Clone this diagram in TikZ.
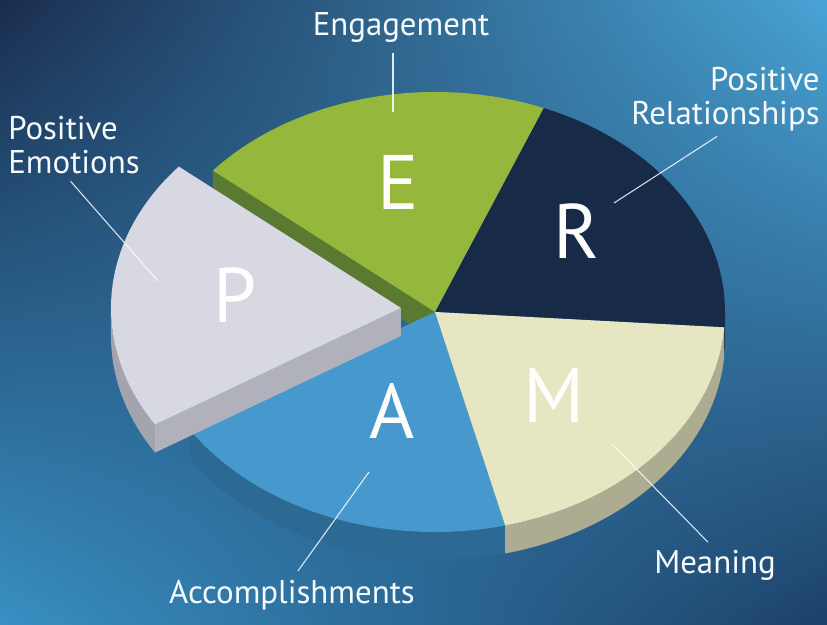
\documentclass[tikz,border=0pt]{standalone}
\usepackage{fontspec}
\setmainfont{PT Sans}
\usepackage{xcolor}
\usepackage{tikz}
\usetikzlibrary{positioning, shadings}
\definecolor{BgTopLeft}{HTML}{1A2D4E}
\definecolor{BgTopRight}{HTML}{48A4D5}
\definecolor{BgBotLeft}{HTML}{3890C3}
\definecolor{BgBotRight}{HTML}{1D4168}
\definecolor{PermaGrey}{HTML}{D7D8E1}
\definecolor{PermaGreyCut}{HTML}{B0B1BA}
\definecolor{PermaGreySide}{HTML}{A3A4AE}
\definecolor{PermaGreen}{HTML}{94B73C}
\definecolor{PermaGreenSide}{HTML}{5B7A31}
\definecolor{PermaNavy}{HTML}{172A48}
\definecolor{PermaNavySide}{HTML}{101E35}
\definecolor{PermaCream}{HTML}{E7E6C3}
\definecolor{PermaCreamSide}{HTML}{ADAB90}
\definecolor{PermaBlue}{HTML}{4698CD}
\definecolor{PermaBlueSide}{HTML}{2C6A94}

\begin{document}
\begin{tikzpicture}[
  x radius=5.8, y radius=4.4,
  letter/.style={text=white, font=\fontsize{44}{44}\selectfont, inner sep=0pt},
  labeltext/.style={text=white!95!BgTopRight, font=\fontsize{18.7}{19}\selectfont, inner sep=0pt},
  leader/.style={white, line width=0.6pt, opacity=0.85, shorten <=0.2cm}
]
\useasboundingbox (-8.7,-6.26) rectangle (7.84,6.24);
\shade[upper left=BgTopLeft, upper right=BgTopRight, lower left=BgBotLeft, lower right=BgBotRight]
  (-8.7,-6.26) rectangle (7.84,6.24);

% side walls
\fill[PermaBlueSide] (212:5.8 and 4.4) arc[start angle=212, end angle=284] -- ++(0,-0.56)
  arc[start angle=284, end angle=212] -- cycle;
\fill[PermaCreamSide] (284:5.8 and 4.4) arc[start angle=284, end angle=356] -- ++(0,-0.56)
  arc[start angle=356, end angle=284] -- cycle;
\fill[PermaNavySide] (356:5.8 and 4.4) arc[start angle=356, end angle=360] -- ++(0,-0.56)
  arc[start angle=360, end angle=356] -- cycle;
\fill[PermaGreenSide] (0,0) -- (140:5.8 and 4.4) -- ++(0,-0.56) -- (0,-0.56) -- cycle;

% top faces
\fill[PermaNavy] (0,0) -- (-4:5.8 and 4.4) arc[start angle=-4, end angle=68] -- cycle;
\fill[PermaGreen] (0,0) -- (68:5.8 and 4.4) arc[start angle=68, end angle=140] -- cycle;
\fill[PermaBlue] (0,0) -- (212:5.8 and 4.4) arc[start angle=212, end angle=284] -- cycle;
\fill[PermaCream] (0,0) -- (284:5.8 and 4.4) arc[start angle=284, end angle=356] -- cycle;

% exploded slice
\begin{scope}[shift={(-0.68,0.08)}]
\fill[PermaGreySide] (180:5.8 and 4.4) arc[start angle=180, end angle=212] -- ++(0,-0.56)
  arc[start angle=212, end angle=180] -- cycle;
\fill[PermaGreyCut] (0,0) -- (212:5.8 and 4.4) -- ++(0,-0.56) -- (0,-0.56) -- cycle;
\fill[PermaGrey] (0,0) -- (140:5.8 and 4.4) arc[start angle=140, end angle=212] -- cycle;
\end{scope}

\node[letter, anchor=base] (lE) at (-0.74,2.04) {E};
\node[letter, anchor=base] (lR) at (2.84,1.06) {R};
\node[letter, anchor=base] (lP) at (-4.0,-0.22) {P};
\node[letter, anchor=base] (lA) at (-0.86,-2.52) {A};
\node[letter, anchor=base] (lM) at (2.38,-2.2) {M};

\node[labeltext, anchor=base] (eng) at (-0.68,5.52) {Engagement};
\node[labeltext, anchor=north east, align=right] (rel) at (7.7,4.9) {Positive\\Relationships};
\node[labeltext, anchor=north west, align=left] (emo) at (-8.54,3.92) {Positive\\Emotions};
\node[labeltext, anchor=base] (mea) at (5.6,-5.22) {Meaning};
\node[labeltext, anchor=base] (acc) at (-2.86,-5.82) {Accomplishments};

\coordinate (e-pin) at (-0.84,4.0);
\coordinate (r-pin) at (3.58,2.18);
\coordinate (p-pin) at (-5.54,0.62);
\coordinate (m-pin) at (3.54,-2.64);
\coordinate (a-pin) at (-1.32,-3.2);

\draw[leader] (eng.south -| e-pin) -- (e-pin);
\draw[leader] (rel.south) -- (r-pin);
\draw[leader] ([xshift=-0.2cm]emo.south) -- (p-pin);
\draw[leader] (mea.north) -- (m-pin);
\draw[leader] (acc.north) -- (a-pin);
\end{tikzpicture}
\end{document}
